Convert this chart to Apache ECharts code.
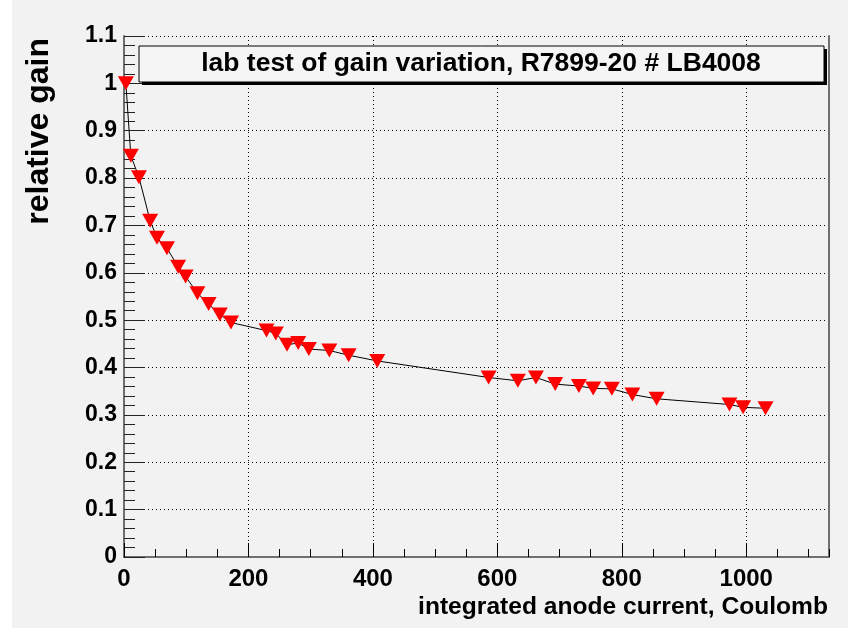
<!DOCTYPE html>
<html>
<head>
<meta charset="utf-8">
<script src="https://cdn.jsdelivr.net/npm/echarts@6/dist/echarts.min.js"></script>
<style>
html,body{margin:0;padding:0;background:#f2f2f2;}
#chart{width:848px;height:628px;}
</style>
</head>
<body>
<div id="chart"></div>
<script>
const chartTitle = 'lab test of gain variation, R7899-20 # LB4008';
const xAxisTitle = 'integrated anode current, Coulomb';
const yAxisTitle = 'relative gain';
const charge = [3, 11, 24, 42, 53, 69, 87, 99, 118, 136, 154, 172, 229, 244, 262, 280, 297, 330, 361, 407, 586, 633, 662, 693, 731, 754, 784, 817, 856, 973, 995, 1031];
const gain = [1.0, 0.847, 0.802, 0.710, 0.674, 0.652, 0.613, 0.592, 0.557, 0.534, 0.512, 0.495, 0.478, 0.472, 0.448, 0.452, 0.439, 0.436, 0.426, 0.414, 0.379, 0.372, 0.379, 0.365, 0.361, 0.356, 0.355, 0.343, 0.334, 0.322, 0.316, 0.314];
const xMin = 0, xMax = 1133, xMajor = 200, xMinor = 50;
const yMin = 0, yMax = 1.1, yMajor = 0.1;

const FONT = '"Liberation Sans", Arial, sans-serif';
const chart = echarts.init(document.getElementById('chart'), null, {renderer: 'canvas'});
const G = {left: 124, top: 36, width: 705, height: 521};
const axisGray = '#707070';

chart.setOption({
  backgroundColor: '#f2f2f2',
  animation: false,
  grid: {left: G.left, top: G.top, width: G.width, height: G.height, containLabel: false},
  xAxis: [
    {
      type: 'value', min: xMin, max: xMax, interval: xMajor, position: 'bottom',
      axisLine: {show: true, onZero: false, lineStyle: {color: axisGray, width: 2}},
      axisTick: {show: true, inside: true, length: 14, lineStyle: {color: '#000', width: 1}},
      minorTick: {show: false},
      axisLabel: {show: true, showMaxLabel: false, margin: 10, color: '#000', fontFamily: FONT, fontWeight: 'bold', fontSize: 24,
        formatter: v => String(v)},
      splitLine: {show: true, lineStyle: {color: '#000', type: [1, 3], width: 1}}
    },
    {
      type: 'value', min: xMin, max: xMax, interval: xMinor, position: 'bottom',
      axisLine: {show: false},
      axisTick: {show: true, inside: true, length: 8, lineStyle: {color: '#000', width: 1}},
      axisLabel: {show: false},
      splitLine: {show: false}
    }
  ],
  yAxis: [
    {
      type: 'value', min: yMin, max: yMax, interval: yMajor, position: 'left',
      axisLine: {show: true, onZero: false, lineStyle: {color: axisGray, width: 2}},
      axisTick: {show: true, inside: true, length: 21, lineStyle: {color: '#222', width: 1}},
      minorTick: {show: true, splitNumber: 5, length: 11, lineStyle: {color: '#222', width: 1}},
      axisLabel: {show: true, margin: 7, color: '#000', fontFamily: FONT, fontWeight: 'bold', fontSize: 23,
        formatter: v => String(Math.round(v * 10) / 10)},
      splitLine: {show: true, lineStyle: {color: '#000', type: [1, 3], width: 1}}
    },
    {
      type: 'value', min: yMin, max: yMax, position: 'right',
      axisLine: {show: true, onZero: false, lineStyle: {color: axisGray, width: 2}},
      axisTick: {show: false}, axisLabel: {show: false}, splitLine: {show: false}
    }
  ],
  series: [{
    type: 'line',
    xAxisIndex: 0, yAxisIndex: 0,
    data: charge.map((x, i) => [x, gain[i]]),
    symbol: 'triangle', symbolRotate: 180, symbolSize: [16, 14],
    showAllSymbol: true,
    itemStyle: {color: '#ff0000'},
    lineStyle: {color: '#000', width: 1},
    z: 5
  }],
  graphic: [
    {type: 'rect', shape: {x: 0, y: 0, width: 12, height: 628}, style: {fill: '#ffffff'}, z: 0},
    {type: 'rect', shape: {x: 142, y: 49, width: 685, height: 36}, style: {fill: '#000'}, z: 10},
    {type: 'rect', shape: {x: 139, y: 46, width: 685, height: 36}, style: {fill: '#f5f5f5', stroke: '#000', lineWidth: 1}, z: 11},
    {type: 'text', x: 481, y: 64, style: {text: chartTitle, fill: '#000', font: 'bold 26.5px ' + FONT, textAlign: 'center', textVerticalAlign: 'middle'}, z: 12},
    {type: 'text', x: 828, y: 607, style: {text: xAxisTitle, fill: '#000', font: 'bold 24.6px ' + FONT, textAlign: 'right', textVerticalAlign: 'middle'}, z: 12},
    {type: 'text', x: 39, y: 38, rotation: Math.PI / 2, style: {text: yAxisTitle, fill: '#000', font: 'bold 32px ' + FONT, textAlign: 'right', textVerticalAlign: 'middle'}, z: 12}
  ]
});
</script>
</body>
</html>
